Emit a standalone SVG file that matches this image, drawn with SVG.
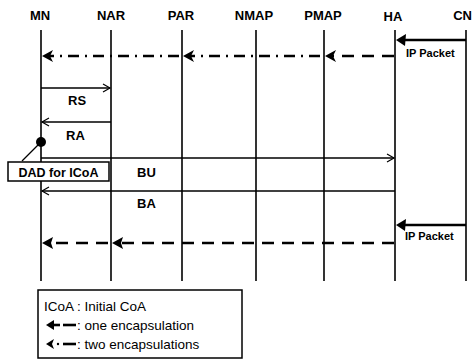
<svg xmlns="http://www.w3.org/2000/svg" width="473" height="360" viewBox="0 0 473 360">
<defs>
<style>
.hdr{font-family:"Liberation Sans",Arial,sans-serif;font-weight:bold;font-size:13px;text-anchor:middle;fill:#000}
.lbl{font-family:"Liberation Sans",Arial,sans-serif;font-weight:bold;font-size:13px;fill:#000}
.leg{font-family:"Liberation Sans",Arial,sans-serif;font-size:13.5px;fill:#000}
.life{stroke:#000;stroke-width:1.6;fill:none}
.msg{stroke:#000;stroke-width:1.3;fill:none}
.dash{stroke:#000;stroke-width:2.6;fill:none;stroke-dasharray:12 8}
.dd{stroke:#000;stroke-width:2.6;fill:none;stroke-dasharray:11 6 2 6}
.thick{stroke:#000;stroke-width:2.6;fill:none}
.box{stroke:#000;stroke-width:1.5;fill:#fff}
</style>
<marker id="open" markerWidth="10" markerHeight="10" refX="8" refY="5" orient="auto" markerUnits="userSpaceOnUse">
<path d="M1,1 L8,5 L1,9" fill="none" stroke="#000" stroke-width="1.2"/>
</marker>
</defs>
<g id="headers">
<text class="hdr" x="40" y="20">MN</text>
<text class="hdr" x="111" y="20">NAR</text>
<text class="hdr" x="181" y="20">PAR</text>
<text class="hdr" x="254" y="20">NMAP</text>
<text class="hdr" x="323" y="20">PMAP</text>
<text class="hdr" x="393" y="21">HA</text>
<text class="hdr" x="472" y="20" text-anchor="end" style="text-anchor:end">CN</text>
</g>
<g id="lifelines">
<line class="life" x1="41" y1="30" x2="41" y2="281"/>
<line class="life" x1="111" y1="30" x2="111" y2="281"/>
<line class="life" x1="182" y1="30" x2="182" y2="281"/>
<line class="life" x1="256" y1="30" x2="256" y2="281"/>
<line class="life" x1="324" y1="30" x2="324" y2="281"/>
<line class="life" x1="395" y1="30" x2="395" y2="281"/>
<line class="life" x1="466" y1="30" x2="466" y2="281"/>
</g>
<g id="connectors">
<line class="thick" x1="466" y1="40" x2="402" y2="40"/>
<path d="M396,40 L406,34 L405,46 Z" fill="#000"/>
<line class="dash" x1="394" y1="56" x2="332" y2="56"/>
<path d="M325,56 L336,50 L333,56 L336,62 Z" fill="#000"/>
<line class="dd" x1="320" y1="56" x2="190" y2="56"/>
<path d="M183,56 L194,50 L191,56 L194,62 Z" fill="#000"/>
<line class="dd" x1="179" y1="56" x2="50" y2="56"/>
<path d="M42,56 L53,50 L50,56 L53,62 Z" fill="#000"/>
<line class="msg" x1="41" y1="88" x2="110" y2="88" marker-end="url(#open)"/>
<line class="msg" x1="111" y1="122" x2="42" y2="122" marker-end="url(#open)"/>
<line class="msg" x1="41" y1="158" x2="394" y2="158" marker-end="url(#open)"/>
<line class="msg" x1="395" y1="191" x2="42" y2="191" marker-end="url(#open)"/>
<line class="thick" x1="466" y1="225" x2="402" y2="225"/>
<path d="M396,225 L406,219 L405,231 Z" fill="#000"/>
<line class="dash" x1="394" y1="243" x2="118" y2="243"/>
<path d="M112,243 L123,237 L121,243 L123,249 Z" fill="#000"/>
<line class="dash" x1="108" y1="243" x2="48" y2="243"/>
<path d="M42,243 L53,237 L51,243 L53,249 Z" fill="#000"/>
<line class="msg" x1="41" y1="142" x2="22" y2="161"/>
</g>
<g id="labels">
<text class="lbl" x="406" y="57" font-size="11" style="font-size:11px">IP Packet</text>
<text class="lbl" x="405" y="240" style="font-size:11px">IP Packet</text>
<text class="lbl" x="68" y="105">RS</text>
<text class="lbl" x="66" y="140">RA</text>
<text class="lbl" x="137" y="177">BU</text>
<text class="lbl" x="137" y="208">BA</text>
</g>
<g id="dad">
<circle cx="41" cy="142" r="5" fill="#000"/>
<rect class="box" x="8" y="162" width="101" height="19"/>
<text class="lbl" x="58.5" y="176.5" text-anchor="middle" style="font-size:12.5px">DAD for ICoA</text>
</g>
<g id="legend">
<rect x="38" y="290" width="204" height="68" fill="#fff" stroke="#000" stroke-width="1.5"/>
<text class="leg" x="44" y="311">ICoA : Initial CoA</text>
<path d="M46,325 L54,320 L54,330 Z" fill="#000"/>
<line x1="53" y1="325" x2="60" y2="325" stroke="#000" stroke-width="2.6"/>
<line x1="63" y1="325" x2="76" y2="325" stroke="#000" stroke-width="2.6"/>
<text class="leg" x="77" y="330">: one encapsulation</text>
<path d="M46,344 L54,339 L52,344 L54,349 Z" fill="#000"/>
<circle cx="58" cy="344" r="1.2" fill="#000"/>
<line x1="63" y1="344" x2="76" y2="344" stroke="#000" stroke-width="2.6"/>
<text class="leg" x="77" y="349">: two encapsulations</text>
</g>
</svg>
